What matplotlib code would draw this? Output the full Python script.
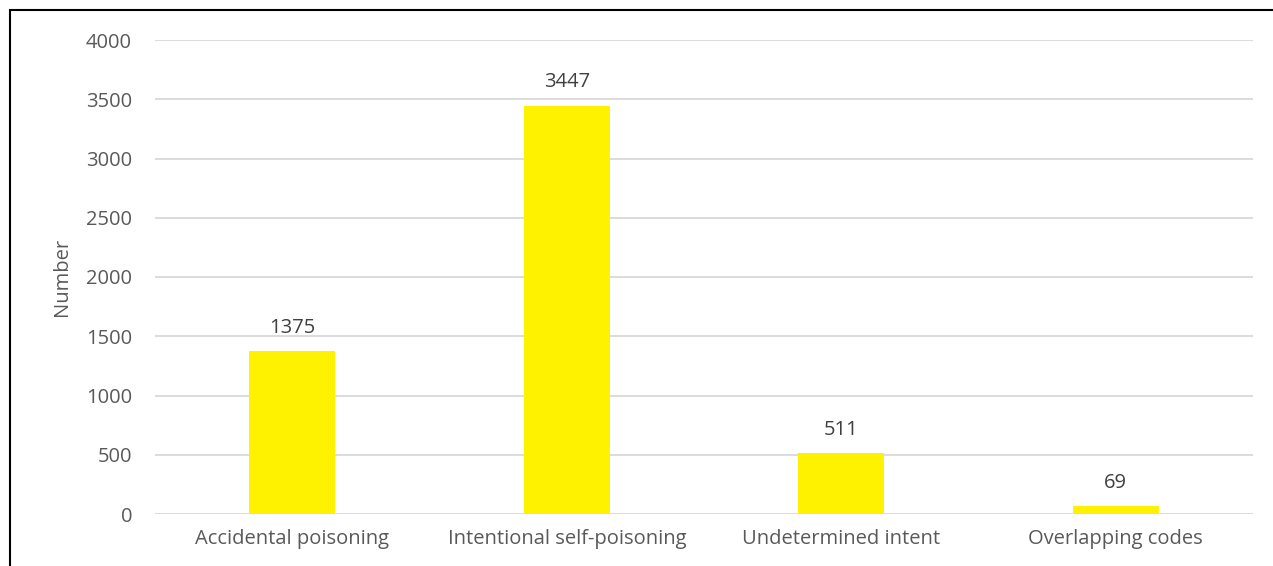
import matplotlib
matplotlib.use("Agg")
import matplotlib.pyplot as plt
from matplotlib.patches import Rectangle

categories = ["Accidental poisoning", "Intentional self-poisoning",
              "Undetermined intent", "Overlapping codes"]
counts = [1375, 3447, 511, 69]
y_ticks = [0, 500, 1000, 1500, 2000, 2500, 3000, 3500, 4000]

text_color = "#595959"
plt.rcParams["font.family"] = ["Open Sans", "DejaVu Sans"]

fig = plt.figure(figsize=(12.73, 5.66), dpi=100)
ax = fig.add_axes([155 / 1273, 52 / 566, (1253 - 155) / 1273, (514 - 40) / 566])

x = list(range(len(categories)))
ax.bar(x, counts, width=0.315, color="#fff200", zorder=3)
for xi, v in zip(x, counts):
    ax.annotate(str(v), (xi, v), xytext=(0, 13), textcoords="offset points",
                ha="center", va="baseline", fontsize=14.5, color="#404040")

ax.set_xlim(-0.5, len(categories) - 0.5)
ax.set_ylim(0, 4000)
ax.set_yticks(y_ticks)
ax.set_xticks(x)
ax.set_xticklabels(categories)
ax.tick_params(axis="both", length=0, labelsize=14.5, colors=text_color)
ax.tick_params(axis="y", pad=16.5)
ax.tick_params(axis="x", pad=11)
ax.grid(axis="y", color="#d9d9d9", linewidth=1.3, zorder=0)
for s in ax.spines.values():
    s.set_visible(False)
ax.set_ylabel("Number", fontsize=14.5, color=text_color, labelpad=10)

# outer chart frame
fig.patches.append(Rectangle((10 / 1273, -0.1), 1.2, (556 / 566) + 0.1,
                             transform=fig.transFigure, fill=False,
                             edgecolor="black", linewidth=1.5))

fig.savefig("out.png", dpi=100)
